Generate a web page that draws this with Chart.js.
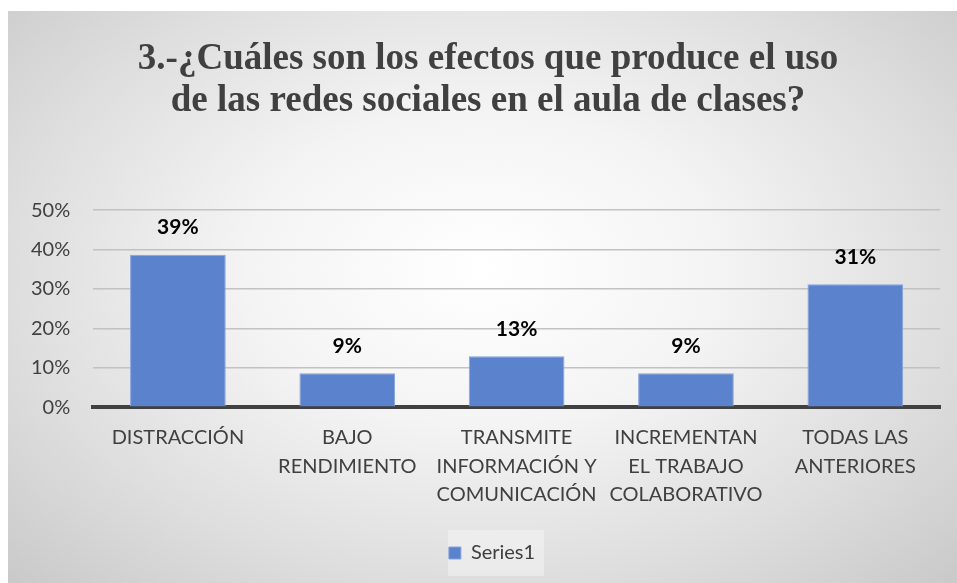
<!DOCTYPE html>
<html lang="es">
<head>
<meta charset="UTF-8">
<title>Efectos de las redes sociales</title>
<script src="https://cdn.jsdelivr.net/npm/chart.js"></script>
<style>
  html, body { margin: 0; padding: 0; background: #fff; }
  #wrap {
    position: absolute; left: 8px; top: 11px; width: 949px; height: 572px;
    background: radial-gradient(ellipse at 50% 45%, #ffffff 0%, #f4f4f4 35%, #dedede 70%, #c9c9c9 100%);
  }
</style>
</head>
<body>
<div id="wrap"><canvas id="myChart"></canvas></div>
<script>
  // datos del gráfico
  const categorias = [
    ['DISTRACCIÓN'],
    ['BAJO', 'RENDIMIENTO'],
    ['TRANSMITE', 'INFORMACIÓN Y', 'COMUNICACIÓN'],
    ['INCREMENTAN', 'EL TRABAJO', 'COLABORATIVO'],
    ['TODAS LAS', 'ANTERIORES']
  ];
  const valores = [0.387, 0.086, 0.129, 0.086, 0.312];
  const etiquetas = ['39%', '9%', '13%', '9%', '31%'];
  const titulo = ['3.-¿Cuáles son los efectos que produce el uso', 'de las redes sociales en el aula de clases?'];

  // etiquetas encima de las barras
  const etiquetasPlugin = {
    id: 'etiquetas',
    afterDatasetsDraw(chart) {
      const ctx = chart.ctx;
      const meta = chart.getDatasetMeta(0);
      ctx.save();
      ctx.font = 'bold 21px Lato, "Noto Sans", sans-serif';
      ctx.fillStyle = '#000';
      ctx.textAlign = 'center';
      ctx.textBaseline = 'middle';
      meta.data.forEach((bar, i) => {
        ctx.fillText(etiquetas[i], bar.x, bar.y - 27);
      });
      ctx.restore();
    }
  };

  // título y leyenda un poco a la derecha, leyenda con fondo claro
  const ajustes = {
    id: 'ajustes',
    afterLayout(chart) {
      const lg = chart.legend;
      if (lg) { lg.left += 18; lg.right += 18; }
      const tb = chart.titleBlock;
      if (tb) { tb.left += 14; tb.right += 14; }
    },
    beforeDraw(chart) {
      const lg = chart.legend;
      if (!lg) return;
      const ctx = chart.ctx;
      ctx.save();
      ctx.fillStyle = 'rgba(255,255,255,0.35)';
      const w = 96, h = 46;
      const cy = lg.legendHitBoxes.length ? lg.legendHitBoxes[0].top + lg.legendHitBoxes[0].height / 2 : lg.top + lg.height / 2;
      ctx.fillRect(lg.left + lg.width / 2 - w / 2 + 4, cy - h / 2, w, h);
      ctx.restore();
    }
  };

  const ctx = document.getElementById('myChart').getContext('2d');
  const myChart = new Chart(ctx, {
    type: 'bar',
    data: {
      labels: categorias,
      datasets: [{
        label: 'Series1',
        data: valores,
        backgroundColor: '#5b82cc',
        borderColor: '#86a3dc',
        borderWidth: 1,
        categoryPercentage: 1.0,
        barPercentage: 0.565
      }]
    },
    options: {
      responsive: true,
      maintainAspectRatio: false,
      animation: false,
      layout: { padding: { left: 0, right: 17, top: 16, bottom: 10 } },
      plugins: {
        title: {
          display: true,
          text: titulo,
          color: '#404040',
          font: { family: '"Liberation Serif", "Times New Roman", serif', size: 37, weight: 'bold', lineHeight: 1.15 },
          padding: { top: 11, bottom: 87 }
        },
        legend: {
          position: 'bottom',
          labels: {
            boxWidth: 12,
            boxHeight: 12,
            color: '#404040',
            font: { family: 'Lato, "Noto Sans", sans-serif', size: 20 },
            padding: 23
          }
        },
        tooltip: { enabled: false }
      },
      scales: {
        x: {
          grid: { display: false },
          border: { color: '#404040', width: 4 },
          afterFit: scale => { scale.height += 3; },
          ticks: {
            color: '#404040',
            maxRotation: 0,
            autoSkip: false,
            padding: 8,
            font: { family: 'Lato, "Noto Sans", sans-serif', size: 20, lineHeight: 1.43 }
          }
        },
        y: {
          min: 0,
          max: 0.5,
          grid: { color: '#c2c2c2', lineWidth: 1.5, drawTicks: false },
          border: { display: false },
          ticks: {
            stepSize: 0.1,
            color: '#404040',
            padding: 23,
            font: { family: 'Lato, "Noto Sans", sans-serif', size: 20 },
            callback: v => Math.round(v * 100) + '%'
          }
        }
      }
    },
    plugins: [ajustes, etiquetasPlugin]
  });
</script>
</body>
</html>
